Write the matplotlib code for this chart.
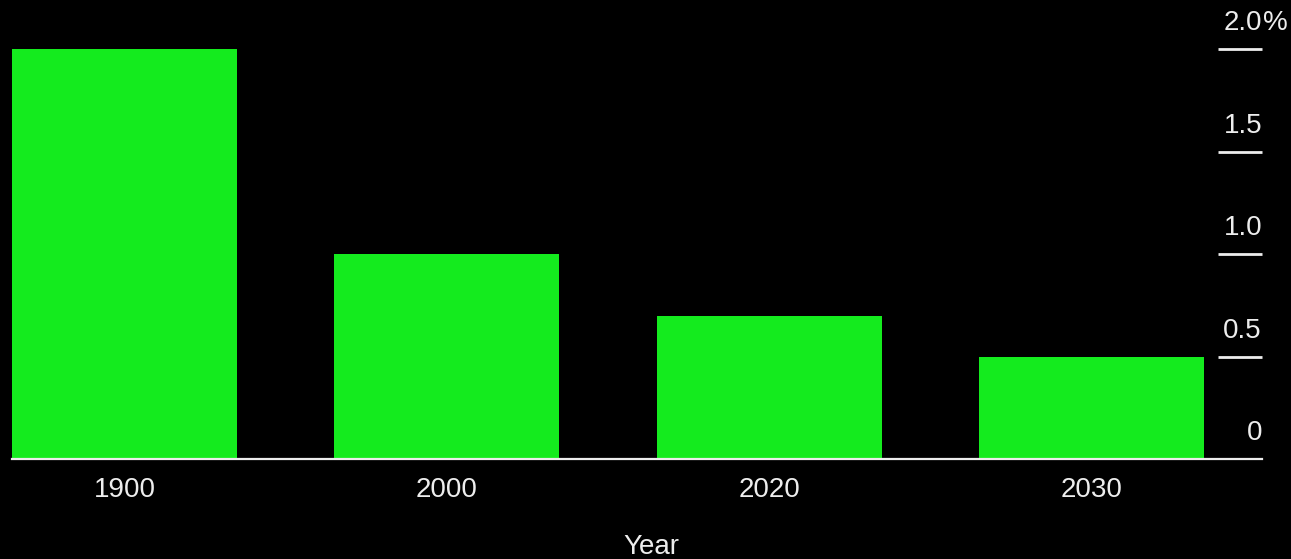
import matplotlib.pyplot as plt

years = ["1900", "2000", "2020", "2030"]
rates = [2.0, 1.0, 0.7, 0.5]
yticks = [0, 0.5, 1.0, 1.5, 2.0]
ytick_labels = ["0", "0.5", "1.0", "1.5", "2.0"]

green = '#14EB1E'
fg = '#EDEDED'

plt.rcParams['font.family'] = ['Liberation Sans', 'DejaVu Sans']

fig = plt.figure(figsize=(12.91, 5.59), dpi=100, facecolor='black')
ax = fig.add_axes([12/1291, 100/559, 1250/1291, 410/559])
ax.set_facecolor('black')

x = list(range(len(years)))
ax.bar(x, rates, width=0.698, color=green, zorder=2)
ax.set_xlim(-0.349, 3.528)
ax.set_ylim(0, 2.0)

# baseline
ax.axhline(0, color=fg, lw=1.6, zorder=3, clip_on=False)

# right side ticks: short lines with labels sitting above
for v, lab in zip(yticks, ytick_labels):
    if v > 0:
        ax.plot([3.392, 3.528], [v, v], color=fg, lw=2.0, solid_capstyle='butt',
                clip_on=False, zorder=3)
    ax.annotate(lab, xy=(3.528, v), xytext=(0, 13.5), textcoords='offset points',
                ha='right', va='baseline', color=fg, fontsize=20, annotation_clip=False)
    if v == 2.0:
        ax.annotate('%', xy=(3.528, v), xytext=(1, 13.5), textcoords='offset points',
                    ha='left', va='baseline', color=fg, fontsize=20, annotation_clip=False)

ax.set_yticks([])
ax.set_xticks(x)
ax.set_xticklabels(years, color=fg, fontsize=20)
ax.tick_params(axis='x', length=0, pad=13)
for s in ax.spines.values():
    s.set_visible(False)

fig.text(651/1291, 1 - 554/559, "Year", ha='center', va='baseline', color=fg, fontsize=20)

fig.savefig("out.png", dpi=100, facecolor='black')
